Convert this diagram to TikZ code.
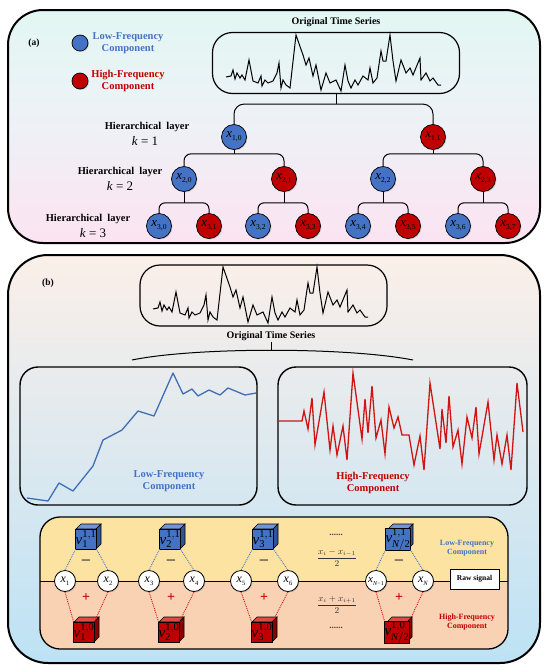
\documentclass[tikz,border=0pt]{standalone}
\usepackage{fontspec}
\setmainfont{Liberation Serif}
\usetikzlibrary{shadows,calc}
\definecolor{lfblue}{HTML}{4472C4}
\definecolor{lftop}{HTML}{7196D8}
\definecolor{lfside}{HTML}{2F5597}
\definecolor{hfred}{HTML}{C00000}
\definecolor{hftop}{HTML}{E04848}
\definecolor{hfside}{HTML}{8A0000}
\definecolor{chartblue}{HTML}{3F6FB5}
\definecolor{chartred}{HTML}{D01414}
\definecolor{paTop}{HTML}{E2F7F3}
\definecolor{paMid}{HTML}{EEF1F6}
\definecolor{paBot}{HTML}{FCE3F2}
\definecolor{pbTop}{HTML}{FBEFE9}
\definecolor{pbBot}{HTML}{BDE2F5}
\definecolor{yel}{HTML}{FCE3A2}
\definecolor{peach}{HTML}{F9D2B4}
\newcommand\xlab[1]{{\fontsize{13}{13}\selectfont\itshape x}\raisebox{-3pt}{\fontsize{7.5}{8}\selectfont #1}}
\newcommand\xsm[1]{{\fontsize{12}{12}\selectfont\itshape x}\raisebox{-3pt}{\fontsize{6.5}{7}\selectfont #1}}
\newcommand\vlab[2]{{\fontsize{15}{15}\selectfont$\mathit{v}^{\mathrm{#2}}_{\mathrm{#1}}$}}
\newcommand\mkcube[7]{%
  \begin{scope}[shift={(#2,#3)}]
    \filldraw[fill=#5,draw=black,line width=0.6pt] (-10,-10) -- (-5,-15) -- (15,-15) -- (10,-10) -- cycle;
    \filldraw[fill=#6,draw=black,line width=0.6pt] (10,-10) -- (15,-15) -- (15,5) -- (10,10) -- cycle;
  \end{scope}
  \node[cubef,fill=#4] (#1) at (#2,#3) {#7};}
\tikzset{
  tsline/.pic={\draw[line width=1pt,line join=miter] (153,309) -- (158,308) -- (160,302) -- (162,311) -- (164,305) -- (167,310) -- (169,307) -- (172,312) -- (176,292) -- (180,313) -- (185,315) -- (188,308) -- (189,318) -- (192,312) -- (195,315) -- (200,313) -- (204,305) -- (206,295) -- (208,320) -- (210,312) -- (213,317) -- (217,320) -- (223,267) -- (230,287) -- (233,297) -- (236,290) -- (240,308) -- (243,297) -- (248,322) -- (253,305) -- (257,315) -- (263,312) -- (268,323) -- (272,297) -- (275,313) -- (278,320) -- (282,312) -- (285,317) -- (290,308) -- (295,312) -- (297,300) -- (300,315) -- (304,310) -- (308,283) -- (310,293) -- (313,293) -- (317,267) -- (320,293) -- (323,313) -- (328,292) -- (333,305) -- (337,300) -- (340,307) -- (347,290) -- (348,312) -- (353,305) -- (357,313) -- (360,310) -- (365,317) -- (368,317);}
}
\begin{document}
\begin{tikzpicture}[x=1pt,y=-1pt,
  lf/.style={circle,draw=black,line width=0.7pt,fill=lfblue,minimum size=25pt,inner sep=0pt,drop shadow={opacity=0.3,shadow xshift=1pt,shadow yshift=-1pt}},
  hf/.style={lf,fill=hfred},
  wn/.style={circle,draw=black,line width=0.8pt,fill=white,minimum size=21pt,inner sep=0pt,drop shadow={opacity=0.3,shadow xshift=1pt,shadow yshift=-1pt}},
  cubef/.style={rectangle,draw=black,line width=0.6pt,minimum width=20pt,minimum height=20pt,inner sep=0pt,outer sep=0pt},
  conn/.style={line width=1pt},
  tsbox/.style={draw=black,line width=1.2pt,rounded corners=20pt,minimum width=247pt,minimum height=61pt},
  lbl/.style={font=\fontsize{10}{11}\selectfont\bfseries,align=center,inner sep=1pt},
  hl/.style={font=\fontsize{10.5}{11}\selectfont\bfseries,inner sep=1pt},
  leg/.style={font=\fontsize{10.5}{12}\selectfont\bfseries,align=center,inner sep=1pt},
  kl/.style={font=\fontsize{13}{13}\selectfont,inner sep=1pt},
  bdot/.style={densely dotted,line width=0.9pt,color=lfblue},
  rdot/.style={densely dotted,line width=0.9pt,color=chartred},
  minus/.style={font=\fontsize{18}{18}\selectfont\bfseries,text=black!70,inner sep=0pt},
  plus/.style={font=\fontsize{14}{14}\selectfont\bfseries,text=hfred,inner sep=0pt}]
\useasboundingbox (0,0) rectangle (550,672);

% ---------- panel (a)
\draw[line width=2pt,rounded corners=35pt,top color=paTop,bottom color=paBot,middle color=paMid] (8,10) rectangle (540,243);
\node[font=\fontsize{9.5}{10}\selectfont\bfseries] (la) at (34,43) {(a)};
\node[circle,draw=black,line width=0.7pt,fill=lfblue,minimum size=16pt,inner sep=0pt,drop shadow={opacity=0.3,shadow xshift=1pt,shadow yshift=-1pt}] (lgb) at (80,43) {};
\node[leg,text=lfblue] (lgbt) at (128,43) {Low-Frequency\\Component};
\node[circle,draw=black,line width=0.7pt,fill=hfred,minimum size=16pt,inner sep=0pt,drop shadow={opacity=0.3,shadow xshift=1pt,shadow yshift=-1pt}] (lgr) at (80,81) {};
\node[leg,text=hfred] (lgrt) at (128,81) {High-Frequency\\Component};
\node[lbl] (otsa) at (336,22) {Original Time Series};
\node[tsbox] (tsa) at (336,63) {};
\pic at (73,-232) {tsline};

\node[hl] (h1) at (147,127) {Hierarchical\ \ layer};
\node[kl] (k1) at (145,141) {\textit{k} = 1};
\node[hl] (h2) at (120,172) {Hierarchical\ \ layer};
\node[kl] (k2) at (120,186) {\textit{k} = 2};
\node[hl] (h3) at (88,219) {Hierarchical\ \ layer};
\node[kl] (k3) at (93,233) {\textit{k} = 3};

\node[lf] (x10) at (234,137) {\xlab{1,0}};
\node[hf] (x11) at (433,137) {\xlab{1,1}};
\node[lf] (x20) at (184,179) {\xlab{2,0}};
\node[hf] (x21) at (284,179) {\xlab{2,1}};
\node[lf] (x22) at (383,179) {\xlab{2,2}};
\node[hf] (x23) at (483,179) {\xlab{2,3}};
\node[lf] (x30) at (159,226) {\xlab{3,0}};
\node[hf] (x31) at (209,226) {\xlab{3,1}};
\node[lf] (x32) at (258,226) {\xlab{3,2}};
\node[hf] (x33) at (308,226) {\xlab{3,3}};
\node[lf] (x34) at (358,226) {\xlab{3,4}};
\node[hf] (x35) at (408,226) {\xlab{3,5}};
\node[lf] (x36) at (458,226) {\xlab{3,6}};
\node[hf] (x37) at (508,226) {\xlab{3,7}};

\coordinate (ja) at ($(tsa.south)+(0,10)$);
\draw[conn] (tsa.south) -- (ja);
\draw[conn,rounded corners=10pt] (x10.north) |- (ja) -| (x11.north);
\foreach \p/\l/\r in {x10/x20/x21, x11/x22/x23}{
  \coordinate (j\p) at ($(\p.south)+(0,4)$);
  \draw[conn] (\p.south) -- (j\p);
  \draw[conn,rounded corners=7pt] (\l.north) |- (j\p) -| (\r.north);
}
\foreach \p/\l/\r in {x20/x30/x31, x21/x32/x33, x22/x34/x35, x23/x36/x37}{
  \coordinate (j\p) at ($(\p.south)+(0,11)$);
  \draw[conn] (\p.south) -- (j\p);
  \draw[conn,rounded corners=6pt] (\l.north) |- (j\p) -| (\r.north);
}

% ---------- panel (b)
\draw[line width=2pt,rounded corners=40pt,top color=pbTop,bottom color=pbBot] (8,255) rectangle (540,663);
\node[font=\fontsize{9.5}{10}\selectfont\bfseries] (lb) at (48,283) {(b)};
\node[tsbox] (tsb) at (263.5,295.5) {};
\pic at (0,0) {tsline};
\node[lbl] (otsb) at (271,336) {Original Time Series};
\coordinate (jb) at (271,351);
\coordinate (al) at (132,360);
\coordinate (ar) at (413,360);
\draw[conn] (otsb.south) -- (jb);
\draw[conn] (al) .. controls (195,347) and (347,347) .. (ar);

\node[draw=black,line width=1.4pt,rounded corners=18pt,minimum width=237pt,minimum height=138pt] (lfp) at (138.5,436) {};
\node[draw=black,line width=1.4pt,rounded corners=18pt,minimum width=249pt,minimum height=138pt] (hfp) at (402.5,436) {};
\draw[chartblue,line width=1.3pt,line join=round] (27,498) -- (48,501) -- (59,483) -- (73,491) -- (93,466) -- (103,440) -- (122,430) -- (138,411) -- (154,416) -- (173,373) -- (183,394) -- (192,389) -- (198,396) -- (209,390) -- (220,395) -- (228,388) -- (245,395) -- (256,393);
\draw[chartred,line width=1.3pt,line join=miter] (278,421) -- (302,421) -- (304,411) -- (308,429) -- (312,398) -- (315,445) -- (324,392) -- (330,450) -- (333,426) -- (337,455) -- (343,426) -- (347,460) -- (353,373) -- (362,439) -- (365,399) -- (368,433) -- (372,386) -- (376,438) -- (381,420) -- (385,454) -- (389,407) -- (394,428) -- (398,417) -- (402,435) -- (409,435) -- (414,465) -- (420,436) -- (424,470) -- (430,383) -- (440,449) -- (442,409) -- (446,443) -- (449,396) -- (453,447) -- (458,430) -- (462,464) -- (467,417) -- (472,438) -- (476,407) -- (479,454) -- (488,402) -- (494,460) -- (497,435) -- (502,464) -- (507,435) -- (511,470) -- (517,383) -- (523,432);
\node[leg,text=lfblue] (lfl) at (169,481) {Low-Frequency\\Component};
\node[leg,text=hfred] (hfl) at (373,483) {High-Frequency\\Component};

% ---------- bottom inner panel
\begin{scope}
  \clip[rounded corners=20pt] (40,517) rectangle (508,649);
  \fill[yel] (40,517) rectangle (508,581);
  \fill[peach] (40,581) rectangle (508,649);
\end{scope}
\draw[line width=1.3pt,rounded corners=20pt] (40,517) rectangle (508,649);
\draw[conn] (40,581) -- (508,581);

\node[wn] (x1) at (65,581) {\xsm{1}};
\node[wn] (x2) at (108,581) {\xsm{2}};
\node[wn] (x3) at (149,581) {\xsm{3}};
\node[wn] (x4) at (194,581) {\xsm{4}};
\node[wn] (x5) at (241,581) {\xsm{5}};
\node[wn] (x6) at (288,581) {\xsm{6}};
\node[wn] (xn1) at (376,581) {{\fontsize{11}{11}\selectfont\itshape x}\raisebox{-3pt}{\fontsize{6}{6}\selectfont\itshape N\/\upshape −1}};
\node[wn] (xn) at (423,581) {\xsm{\itshape N}};

\mkcube{b1}{86}{539}{lfblue}{lftop}{lfside}{\vlab{1}{1,1}}
\mkcube{b2}{170}{539}{lfblue}{lftop}{lfside}{\vlab{2}{1,1}}
\mkcube{b3}{263}{539}{lfblue}{lftop}{lfside}{\vlab{3}{1,1}}
\mkcube{bn}{398}{539}{lfblue}{lftop}{lfside}{\vlab{\mathit{N}/2}{1,1}}
\mkcube{r1}{84}{632}{hfred}{hftop}{hfside}{\vlab{1}{1,0}}
\mkcube{r2}{169}{632}{hfred}{hftop}{hfside}{\vlab{2}{1,0}}
\mkcube{r3}{262}{632}{hfred}{hftop}{hfside}{\vlab{3}{1,0}}
\mkcube{rn}{397}{632}{hfred}{hftop}{hfside}{\vlab{\mathit{N}/2}{1,0}}

\foreach \c/\l/\r in {b1/x1/x2, b2/x3/x4, b3/x5/x6, bn/xn1/xn}{
  \draw[bdot] (\c.south west) -- (\l.north);
  \draw[bdot] (\c.south east) -- (\r.north);
}
\foreach \c/\l/\r in {r1/x1/x2, r2/x3/x4, r3/x5/x6, rn/xn1/xn}{
  \draw[rdot] (\l.south) -- (\c.north west);
  \draw[rdot] (\r.south) -- (\c.north east);
}
\node[minus] (m1) at (86,563) {−};
\node[minus] (m2) at (171,563) {−};
\node[minus] (m3) at (264,563) {−};
\node[minus] (mn) at (399,563) {−};
\node[plus] (p1) at (86,598) {+};
\node[plus] (p2) at (171,598) {+};
\node[plus] (p3) at (264,598) {+};
\node[plus] (pn) at (399,598) {+};

\node[font=\fontsize{9}{9}\selectfont\bfseries,text=black!75] (d1) at (336,535) {......};
\node[font=\fontsize{9}{10}\selectfont,text=black!80] (f1) at (337,558) {$\displaystyle\frac{x_i - x_{i-1}}{2}$};
\node[font=\fontsize{9}{10}\selectfont,text=black!80] (f2) at (337,605) {$\displaystyle\frac{x_i + x_{i+1}}{2}$};
\node[font=\fontsize{9}{9}\selectfont\bfseries,text=black!75] (d2) at (336,628) {......};

\node[draw=black,line width=0.9pt,fill=white,minimum width=49pt,minimum height=20pt,inner sep=0pt,font=\fontsize{7.5}{8}\selectfont\bfseries] (raw) at (474.5,579) {Raw signal};
\node[font=\fontsize{8}{9.5}\selectfont\bfseries,align=center,text=lfblue] (lfb) at (467,548) {Low-Frequency\\Component};
\node[font=\fontsize{8}{9.5}\selectfont\bfseries,align=center,text=hfred] (hfb) at (467,622) {High-Frequency\\Component};
\end{tikzpicture}
\end{document}
